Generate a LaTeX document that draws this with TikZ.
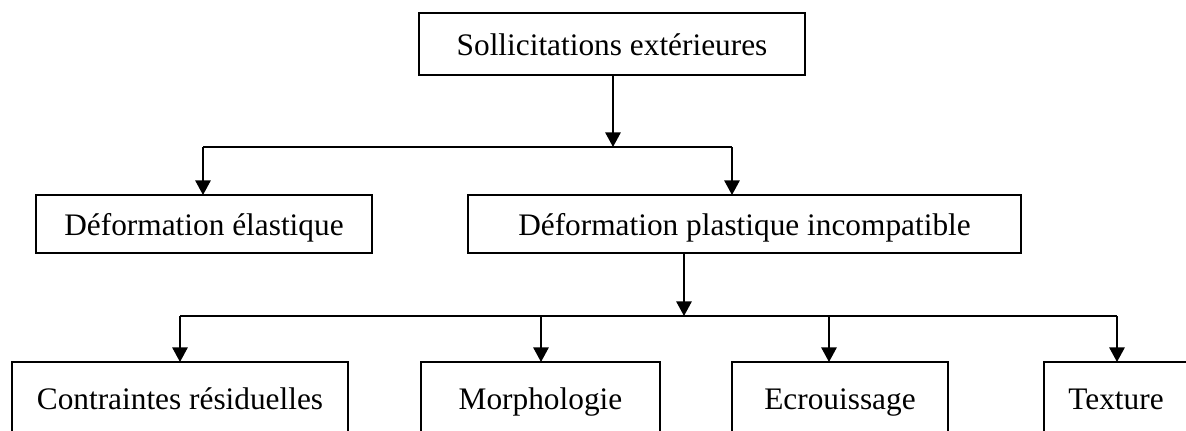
\documentclass[tikz,border=0pt]{standalone}
\usepackage{fontspec}
\setmainfont{Liberation Serif}
\usetikzlibrary{arrows.meta}
\begin{document}
\begin{tikzpicture}[x=0.75pt,y=-0.75pt,
  boxnode/.style={draw=black,line width=1.5pt,rectangle,inner sep=0pt,outer sep=0pt,
    text height=20pt,text depth=3.5pt,
    font=\fontsize{23.5}{28}\selectfont},
  link/.style={line width=1.5pt,draw=black},
  arr/.style={link,-{Triangle[width=11.5pt,length=11pt]}}]
\useasboundingbox (0,0) rectangle (1186,430);
\clip (0,0) rectangle (1186,430);
\fill[white] (0,0) rectangle (1186,430);
% nodes
\node[boxnode,minimum width=289.5pt,minimum height=46.5pt] (top) at (612,44) {Sollicitations extérieures};
\node[boxnode,minimum width=252pt,minimum height=43.5pt] (ela) at (204,224) {Déformation élastique};
\node[boxnode,minimum width=414.75pt,minimum height=43.5pt] (pla) at (744.5,224) {Déformation plastique incompatible};
\node[boxnode,minimum width=252pt,minimum height=54pt] (con) at (180,398) {Contraintes résiduelles};
\node[boxnode,minimum width=179.25pt,minimum height=54pt] (mor) at (540.5,398) {Morphologie};
\node[boxnode,minimum width=162pt,minimum height=54pt] (ecr) at (840,398) {Ecrouissage};
\node[boxnode,minimum width=108pt,minimum height=54pt] (tex) at (1116,398) {Texture};
% bus coordinates
\coordinate (b1) at (613,147);
\coordinate (b1l) at (203,147);
\coordinate (b1r) at (732,147);
\coordinate (b2) at (684,316);
\coordinate (b2a) at (180,316);
\coordinate (b2b) at (541,316);
\coordinate (b2c) at (829,316);
\coordinate (b2d) at (1117,316);
% connectors
\draw[arr] (top.south -| b1) -- (b1);
\draw[link] (b1l) -- (b1r);
\draw[arr] (b1l) -- (b1l |- ela.north);
\draw[arr] (b1r) -- (b1r |- pla.north);
\draw[arr] (pla.south -| b2) -- (b2);
\draw[link] (b2a) -- (b2d);
\draw[arr] (b2a) -- (b2a |- con.north);
\draw[arr] (b2b) -- (b2b |- mor.north);
\draw[arr] (b2c) -- (b2c |- ecr.north);
\draw[arr] (b2d) -- (b2d |- tex.north);
\end{tikzpicture}
\end{document}
